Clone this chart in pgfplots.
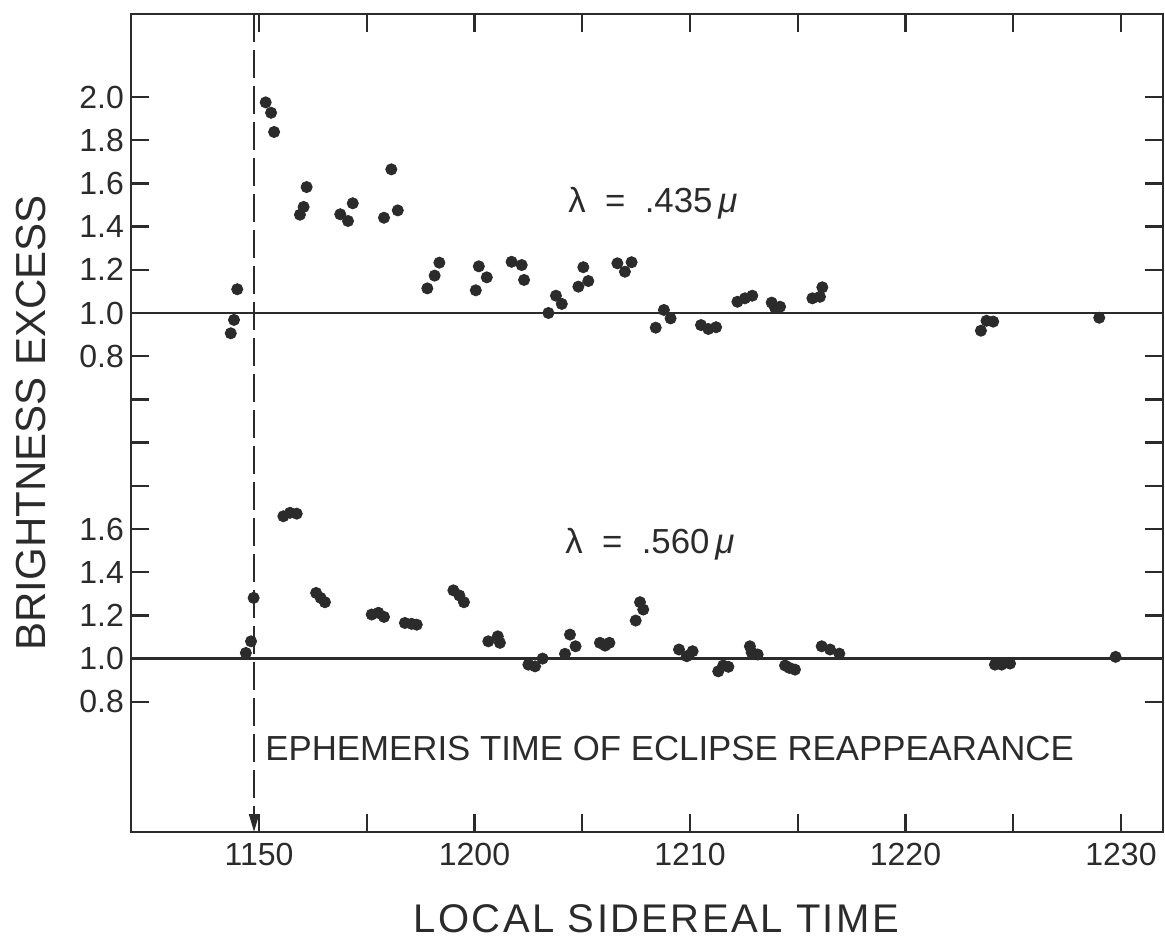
\documentclass[border=0pt]{standalone}
\usepackage{pgfplots}
\pgfplotsset{compat=1.18}
\usepackage{fontspec}
\setmainfont{Liberation Sans}
\newfontfamily\spaced[LetterSpace=6]{Liberation Sans}
\usetikzlibrary{arrows.meta}
\definecolor{plotink}{HTML}{2B2B2B}

\pgfplotstableread{
x y
48.69 0.906
48.84 0.968
48.99 1.110
50.31 1.975
50.56 1.927
50.70 1.838
51.90 1.455
52.07 1.491
52.21 1.583
53.77 1.457
54.13 1.426
54.35 1.508
55.80 1.441
56.14 1.665
56.44 1.475
57.81 1.114
58.15 1.173
58.37 1.233
60.06 1.105
60.20 1.216
60.57 1.165
61.72 1.237
62.19 1.222
62.30 1.153
63.43 1.000
63.78 1.080
64.05 1.042
64.82 1.122
65.05 1.212
65.28 1.148
66.63 1.230
66.98 1.191
67.29 1.235
68.41 0.932
68.79 1.014
69.10 0.975
70.51 0.944
70.85 0.926
71.21 0.934
72.20 1.052
72.55 1.068
72.89 1.080
73.79 1.048
73.94 1.026
74.18 1.029
75.68 1.068
76.03 1.075
76.14 1.119
83.50 0.918
83.76 0.964
84.07 0.960
88.99 0.978
}\blue

\pgfplotstableread{
x y
49.39 1.026
49.63 1.080
49.75 1.281
51.13 1.659
51.44 1.675
51.75 1.671
52.65 1.304
52.86 1.281
53.06 1.261
55.23 1.204
55.54 1.212
55.80 1.193
56.77 1.165
57.08 1.161
57.32 1.157
59.02 1.316
59.30 1.292
59.51 1.261
60.64 1.080
61.08 1.103
61.18 1.073
62.50 0.972
62.81 0.964
63.16 1.000
64.20 1.022
64.43 1.111
64.69 1.057
65.82 1.073
66.06 1.060
66.26 1.073
67.48 1.176
67.68 1.261
67.83 1.227
69.49 1.042
69.85 1.011
70.12 1.034
71.31 0.941
71.54 0.968
71.78 0.962
72.78 1.057
72.86 1.029
73.14 1.019
74.41 0.968
74.61 0.957
74.87 0.949
76.11 1.057
76.50 1.042
76.93 1.023
84.15 0.972
84.46 0.972
84.85 0.977
89.75 1.008
}\yellow

\pgfplotsset{common/.style={
  scale only axis, width=516pt, height=409pt,
  xmin=44.06, xmax=91.95,
  at={(65.5pt,54.5pt)}, anchor=south west,
  clip=false,
}}

\begin{document}
\begin{tikzpicture}
\useasboundingbox (0,0) rectangle (582.5pt,470.5pt);
\begin{axis}[common,
  ymin=-1.4028, ymax=2.3843,
  axis line style={draw=plotink, line width=1.3pt},
  tick pos=both,
  tick align=inside,
  major tick length=0pt,
  xtick={50,55,60,65,70,75,80,85,90},
  xticklabels={1150,,1200,,1210,,1220,,1230},
  ytick={-0.8,-0.6,-0.4,-0.2,0,0.2,0.4,0.6,0.8,1.0,1.2,1.4,1.6,1.8,2.0},
  yticklabels={0.8,1.0,1.2,1.4,1.6,,,,0.8,1.0,1.2,1.4,1.6,1.8,2.0},
  ticklabel style={font=\fontsize{16}{18}\selectfont, text=plotink},
  xticklabel style={yshift=-2pt},
  xlabel={LOCAL SIDEREAL TIME},
  ylabel={BRIGHTNESS EXCESS},
  xlabel style={at={(axis description cs:0.509,-0.1064)}, anchor=center, font=\spaced\fontsize{20}{24}\selectfont, text=plotink},
  ylabel style={at={(axis description cs:-0.0969,0.5)}, anchor=center, font=\fontsize{21}{24}\selectfont, text=plotink},
]
\addplot[only marks, mark=*, mark size=2.8pt, draw=plotink, fill=plotink] table[x=x,y=y] {\blue};
\pgfplotsinvokeforeach{50,55,60,65,70,75,80,85,90}{
  \draw[plotink, line width=1.2pt] (axis cs:#1,-1.4028) -- ++(0pt,9pt);
  \draw[plotink, line width=1.2pt] (axis cs:#1,2.3843) -- ++(0pt,-9pt);
}
\pgfplotsinvokeforeach{-0.8,-0.6,-0.4,-0.2,0,0.2,0.4,0.6,0.8,1.0,1.2,1.4,1.6,1.8,2.0}{
  \draw[plotink, line width=1.2pt] (axis cs:44.06,#1) -- ++(9pt,0pt);
  \draw[plotink, line width=1.2pt] (axis cs:91.95,#1) -- ++(-9pt,0pt);
}
\draw[plotink, line width=1.3pt] (axis cs:44.06,1) -- (axis cs:91.95,1);
\draw[plotink, line width=1.3pt] (axis cs:44.06,-0.6) -- (axis cs:91.95,-0.6);
\draw[plotink, line width=1.1pt, dash pattern=on 14pt off 4pt, -{Triangle[length=9pt,width=5pt]}] (axis cs:49.77,2.3843) -- (axis cs:49.77,-1.4028);
\node[text=plotink, font=\fontsize{17.4}{20}\selectfont] at (axis cs:68.28,1.509) {λ\ \ =\ \ .435\,\textit{μ}};
\end{axis}
\begin{axis}[common, ymin=0.1972, ymax=3.9843, hide axis]
\addplot[only marks, mark=*, mark size=2.8pt, draw=plotink, fill=plotink] table[x=x,y=y] {\yellow};
\node[text=plotink, font=\fontsize{17.4}{20}\selectfont] at (axis cs:68.14,1.528) {λ\ \ =\ \ .560\,\textit{μ}};
\node[text=plotink, font=\fontsize{17.4}{20}\selectfont, anchor=west, inner sep=0pt] at (axis cs:50.28,0.583) {EPHEMERIS TIME OF ECLIPSE REAPPEARANCE};
\end{axis}
\end{tikzpicture}
\end{document}
